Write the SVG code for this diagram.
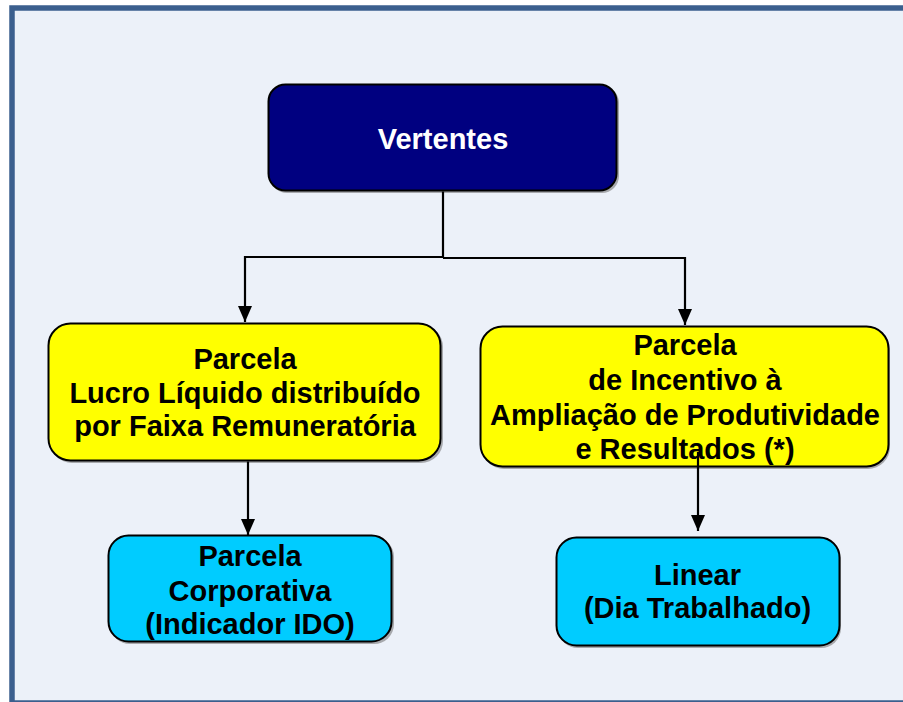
<svg xmlns="http://www.w3.org/2000/svg" width="903" height="702" viewBox="0 0 903 702">
<defs>
<style>
.t{font-family:"Liberation Sans",Arial,sans-serif;font-weight:bold;font-size:29px;text-anchor:middle;fill:#000}
.w{fill:#fff}
.box{stroke:#000;stroke-width:2}
.sh{fill:#7a7a7a;opacity:0.6}
.c{fill:none;stroke:#000;stroke-width:2.2}
</style>
<marker id="ah" markerWidth="16" markerHeight="14" refX="16" refY="7" orient="auto" markerUnits="userSpaceOnUse">
<path d="M0,0 L16,7 L0,14 Z" fill="#000"/>
</marker>
</defs>
<rect x="0" y="0" width="903" height="702" fill="#fff"/>
<rect x="12" y="8" width="900" height="695" fill="#ECF1F9" stroke="#3B5F8E" stroke-width="5.5"/>

<g id="vertentes">
<rect class="sh" x="270" y="86" width="349" height="107" rx="17"/>
<rect class="box" x="268.5" y="84.5" width="348" height="106" rx="17" fill="#000080"/>
<text class="t w" x="443" y="148.5">Vertentes</text>
</g>

<g id="lucro">
<rect class="sh" x="50" y="325" width="393" height="138" rx="22"/>
<rect class="box" x="48.5" y="323.5" width="392" height="137" rx="22" fill="#FFFF00"/>
<text class="t" x="245" y="368.5">Parcela</text>
<text class="t" x="245" y="403">Lucro Líquido distribuído</text>
<text class="t" x="245" y="435.5">por Faixa Remuneratória</text>
</g>
<g id="incentivo">
<rect class="sh" x="482" y="328" width="408" height="141" rx="22"/>
<rect class="box" x="480.5" y="326.5" width="408" height="140" rx="22" fill="#FFFF00"/>
<text class="t" x="685" y="355">Parcela</text>
<text class="t" x="685" y="390">de Incentivo à</text>
<text class="t" x="685" y="425">Ampliação de Produtividade</text>
<text class="t" x="685" y="458.5">e Resultados (*)</text>
</g>
<g id="corporativa">
<rect class="sh" x="110" y="537" width="284" height="107" rx="20"/>
<rect class="box" x="108.5" y="535.5" width="283" height="106" rx="20" fill="#00CCFF"/>
<text class="t" x="250" y="565.5">Parcela</text>
<text class="t" x="250" y="600.5">Corporativa</text>
<text class="t" x="250" y="633.5">(Indicador IDO)</text>
</g>
<g id="linear">
<rect class="sh" x="558" y="539" width="283" height="109" rx="20"/>
<rect class="box" x="556.5" y="537.5" width="283" height="108" rx="20" fill="#00CCFF"/>
<text class="t" x="697.5" y="585">Linear</text>
<text class="t" x="697.5" y="617.5">(Dia Trabalhado)</text>
</g>

<g id="connectors">
<path class="c" d="M443,191.5 V257 H245 V322" marker-end="url(#ah)"/>
<path class="c" d="M443,258 H685 V325" marker-end="url(#ah)"/>
<path class="c" d="M248,461.5 V535" marker-end="url(#ah)"/>
<path class="c" d="M698,452 V531" marker-end="url(#ah)"/>
</g>
</svg>
